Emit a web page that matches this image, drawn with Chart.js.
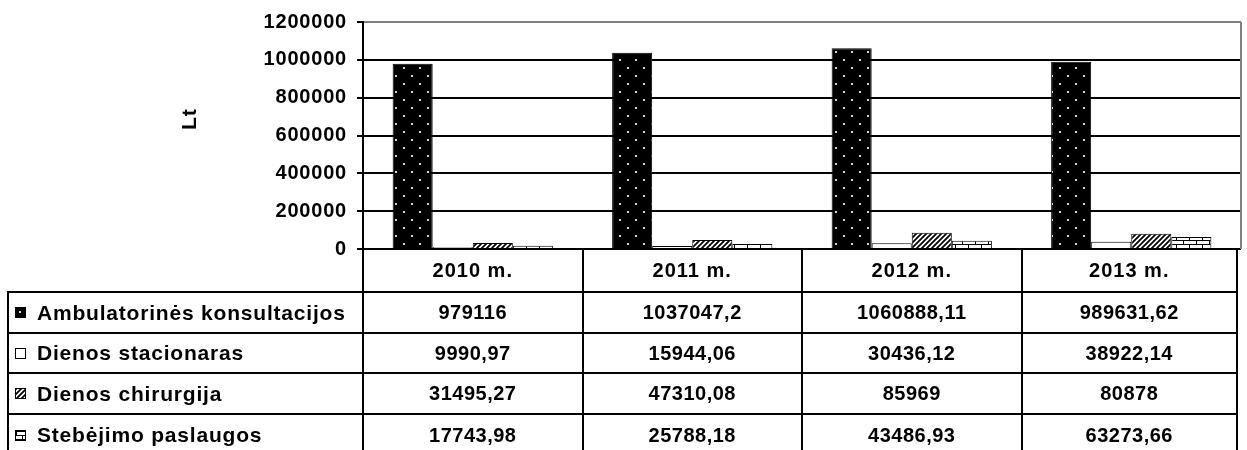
<!DOCTYPE html>
<html lang="lt">
<head>
    <meta charset="UTF-8">
    <title>Paslaugų pajamos, Lt</title>
    <script src="https://cdn.jsdelivr.net/npm/chart.js"></script>
    <style>
        body {
            margin: 0;
            background: #fff;
            font-family: Arial, "Liberation Sans", sans-serif;
            overflow: hidden;
        }
        #wrap {
            position: relative;
            width: 1247px;
            height: 450px;
        }
        #grafikas {
            position: absolute;
            left: 0;
            top: 0;
        }
        #ylabel {
            position: absolute;
            left: 189px;
            top: 119px;
            transform: translate(-50%, -50%) rotate(-90deg);
            font-size: 21px;
            font-weight: bold;
            letter-spacing: 1px;
            white-space: nowrap;
        }
        #lentele {
            position: absolute;
            display: grid;
            font-size: 20px;
            font-weight: bold;
            letter-spacing: 0.5px;
            color: #000;
        }
        #lentele div {
            box-sizing: border-box;
            border-left: 2px solid #000;
            border-top: 2px solid #000;
            display: flex;
            align-items: center;
            justify-content: center;
            white-space: nowrap;
        }
        #lentele div.metai {
            letter-spacing: 1px;
        }
        #lentele div.pav {
            justify-content: flex-start;
            padding-left: 6px;
            font-size: 21px;
            letter-spacing: 0.8px;
        }
        #lentele div.tuscias {
            border: none;
        }
        #lentele div.paskutinis {
            border-right: 2px solid #000;
        }
        #lentele canvas {
            border: 1px solid #000;
            margin-right: 11px;
        }
    </style>
</head>
<body>
<div id="wrap">
    <canvas id="grafikas" width="1247" height="271"></canvas>
    <div id="ylabel">Lt</div>
    <div id="lentele"></div>
</div>

<script>
    // Duomenys
    const metai = ['2010 m.', '2011 m.', '2012 m.', '2013 m.'];
    const ambulatorines = [979116, 1037047.2, 1060888.11, 989631.62];
    const stacionaras = [9990.97, 15944.06, 30436.12, 38922.14];
    const chirurgija = [31495.27, 47310.08, 85969, 80878];
    const stebejimas = [17743.98, 25788.18, 43486.93, 63273.66];
    const pavadinimai = ['Ambulatorinės konsultacijos', 'Dienos stacionaras', 'Dienos chirurgija', 'Stebėjimo paslaugos'];
    const yMax = 1200000;
    const yZingsnis = 200000;

    const serijos = [ambulatorines, stacionaras, chirurgija, stebejimas];

    // Raštai (užpildai) stulpeliams
    function tile(w, h, piesti) {
        const c = document.createElement('canvas');
        c.width = w;
        c.height = h;
        piesti(c.getContext('2d'));
        return c;
    }

    const rastai = [
        tile(16, 16, function(g) {
            g.fillStyle = '#000';
            g.fillRect(0, 0, 16, 16);
            g.fillStyle = '#d8d8d8';
            g.fillRect(3, 3, 2, 2);
            g.fillRect(11, 11, 2, 2);
        }),
        tile(8, 8, function(g) {
            g.fillStyle = '#fff';
            g.fillRect(0, 0, 8, 8);
        }),
        tile(5, 5, function(g) {
            g.fillStyle = '#fff';
            g.fillRect(0, 0, 5, 5);
            g.strokeStyle = '#000';
            g.lineWidth = 1.8;
            g.beginPath();
            g.moveTo(-1, 6); g.lineTo(6, -1);
            g.moveTo(-1, 1); g.lineTo(1, -1);
            g.moveTo(4, 6); g.lineTo(6, 4);
            g.stroke();
        }),
        tile(13, 8, function(g) {
            g.fillStyle = '#fff';
            g.fillRect(0, 0, 13, 8);
            g.fillStyle = '#000';
            g.fillRect(0, 0, 13, 1);
            g.fillRect(0, 4, 13, 1);
            g.fillRect(0, 0, 1, 4);
            g.fillRect(6, 4, 1, 4);
        })
    ];

    var canvas = document.getElementById('grafikas');
    var ctx = canvas.getContext('2d');
    var uzpildai = rastai.map(function(r) { return ctx.createPattern(r, 'repeat'); });

    Chart.defaults.font.family = 'Arial, "Liberation Sans", sans-serif';
    Chart.defaults.font.size = 20;
    Chart.defaults.font.weight = 'bold';
    Chart.defaults.color = '#000';

    // Dešinysis pilkas rėmelis ir šiek tiek platesnis šriftas
    const remelis = {
        id: 'remelis',
        beforeDraw: function(chart) {
            chart.ctx.letterSpacing = '0.8px';
        },
        afterDraw: function(chart) {
            const a = chart.chartArea;
            const c = chart.ctx;
            c.save();
            c.strokeStyle = '#808080';
            c.lineWidth = 2;
            c.beginPath();
            c.moveTo(a.right, a.top);
            c.lineTo(a.right, a.bottom);
            c.stroke();
            c.restore();
        }
    };

    var grafikas = new Chart(ctx, {
        type: 'bar',
        data: {
            labels: metai,
            datasets: serijos.map(function(s, i) {
                return {
                    label: pavadinimai[i],
                    data: s,
                    backgroundColor: uzpildai[i],
                    borderColor: '#000',
                    borderWidth: 1,
                    categoryPercentage: 0.73,
                    barPercentage: 1
                };
            })
        },
        options: {
            responsive: false,
            animation: false,
            layout: {
                padding: { left: 0, right: 6, top: 18, bottom: 12 }
            },
            plugins: {
                legend: { display: false },
                tooltip: { enabled: false }
            },
            scales: {
                x: {
                    display: false
                },
                y: {
                    min: 0,
                    max: yMax,
                    ticks: {
                        stepSize: yZingsnis,
                        padding: 10,
                        callback: function(v) { return String(v); }
                    },
                    grid: {
                        color: function(c) {
                            return c.tick && c.tick.value === yMax ? '#808080' : '#000';
                        },
                        tickColor: '#000',
                        tickLength: 6,
                        lineWidth: 2
                    },
                    border: { display: true, color: '#000', width: 2 },
                    afterFit: function(scale) { scale.width = 363; }
                }
            }
        },
        plugins: [remelis]
    });

    // Duomenų lentelė po grafiku
    function lentele() {
        const a = grafikas.chartArea;
        const plotis = (a.right - a.left) / metai.length;
        const kaire = 8;
        const el = document.getElementById('lentele');
        const stulpeliai = [a.left - kaire];
        for (let i = 0; i < metai.length; i++) {
            stulpeliai.push(i === metai.length - 1 ? plotis - 2 : plotis);
        }
        el.style.left = (kaire - 1) + 'px';
        el.style.top = (a.bottom - 1) + 'px';
        el.style.gridTemplateColumns = stulpeliai.map(function(w) { return w + 'px'; }).join(' ');
        el.style.gridTemplateRows = '43px 41px 40px 41px 42px';

        function langelis(tekstas, klase) {
            const d = document.createElement('div');
            if (klase) d.className = klase;
            if (tekstas !== null) d.textContent = tekstas;
            el.appendChild(d);
            return d;
        }

        langelis(null, 'tuscias');
        metai.forEach(function(m, i) {
            langelis(m, 'metai' + (i === metai.length - 1 ? ' paskutinis' : ''));
        });

        serijos.forEach(function(s, r) {
            const p = langelis(null, 'pav');
            const k = document.createElement('canvas');
            k.width = 9;
            k.height = 9;
            const kc = k.getContext('2d');
            kc.fillStyle = kc.createPattern(rastai[r], 'repeat');
            kc.fillRect(0, 0, 9, 9);
            p.appendChild(k);
            p.appendChild(document.createTextNode(pavadinimai[r]));
            s.forEach(function(v, i) {
                langelis(String(v).replace('.', ','), i === s.length - 1 ? 'paskutinis' : '');
            });
        });
    }
    lentele();
</script>
</body>
</html>
